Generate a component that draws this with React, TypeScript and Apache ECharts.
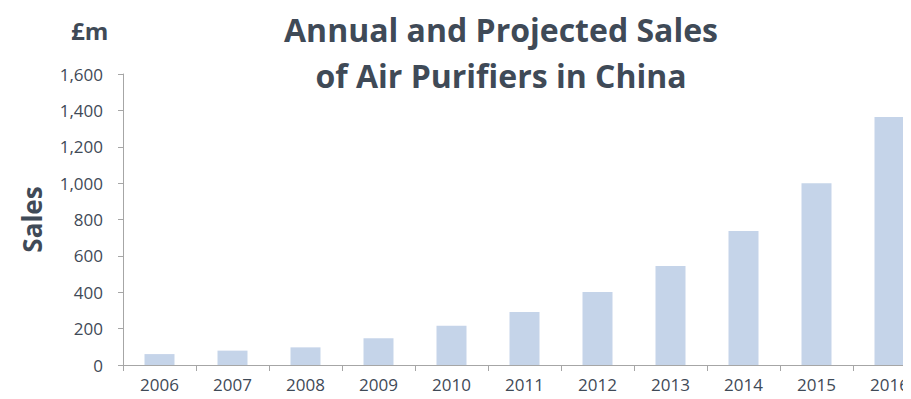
import React, { useEffect, useRef } from "react";
import * as echarts from "echarts";

const years = ["2006", "2007", "2008", "2009", "2010", "2011", "2012", "2013", "2014", "2015", "2016"];
const sales = [60, 79, 97, 147, 216, 291, 401, 545, 737, 1000, 1364];
const titleLines = ["Annual and Projected Sales", "of Air Purifiers in China"];
const unitLabel = "£m";
const yAxisName = "Sales";

const TEXT = "#3f4a57";
const FONT = "'Open Sans', 'Noto Sans', sans-serif";

export default function App() {
  const ref = useRef<HTMLDivElement>(null);
  useEffect(() => {
    if (!ref.current) return;
    const chart = echarts.init(ref.current, null, { renderer: "svg" });
    chart.setOption({
      animation: false,
      backgroundColor: "#ffffff",
      title: {
        text: titleLines.join("\n"),
        left: 496,
        top: 1,
        textAlign: "center",
        textStyle: {
          fontFamily: FONT,
          fontWeight: "bold",
          fontSize: 32,
          lineHeight: 46,
          color: TEXT,
        },
      },
      graphic: [
        {
          type: "text",
          left: 71,
          top: 18,
          style: { text: unitLabel, font: `bold 24px ${FONT}`, fill: TEXT },
        },
      ],
      grid: { left: 123, top: 74, width: 803, height: 291, containLabel: false },
      xAxis: {
        type: "category",
        data: years,
        boundaryGap: true,
        axisLine: { lineStyle: { color: "#a6a6a6", width: 1 } },
        axisTick: { show: true, length: 6, lineStyle: { color: "#a6a6a6" } },
        axisLabel: { color: TEXT, fontFamily: FONT, fontSize: 17, margin: 11 },
      },
      yAxis: {
        type: "value",
        min: 0,
        max: 1600,
        interval: 200,
        name: yAxisName,
        nameLocation: "middle",
        nameGap: 78,
        nameRotate: 90,
        nameTextStyle: { color: TEXT, fontFamily: FONT, fontWeight: "bold", fontSize: 26 },
        axisLine: { show: true, lineStyle: { color: "#a6a6a6", width: 1 } },
        axisTick: { show: true, length: 5, lineStyle: { color: "#a6a6a6" } },
        splitLine: { show: false },
        axisLabel: {
          color: TEXT,
          fontFamily: FONT,
          fontSize: 17,
          margin: 20,
          formatter: (v: number) => v.toLocaleString("en-US"),
        },
      },
      series: [
        {
          type: "bar",
          data: sales,
          barWidth: 30,
          itemStyle: { color: "#c5d4e9" },
        },
      ],
    });
    return () => chart.dispose();
  }, []);
  return (
    <div style={{ width: 911, height: 399, margin: -8, overflow: "hidden", position: "relative" }}>
      <div ref={ref} style={{ width: 940, height: 399 }} />
    </div>
  );
}
